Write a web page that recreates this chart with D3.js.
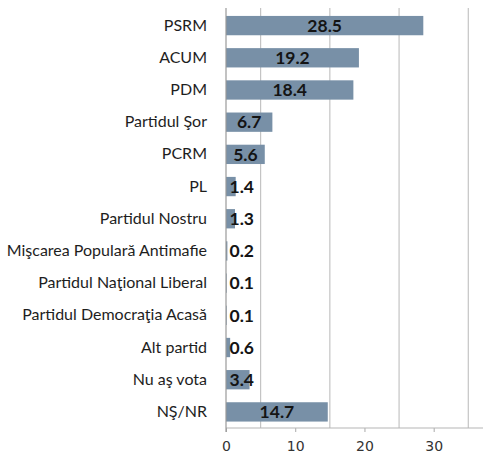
<!DOCTYPE html>
<html><head><meta charset="utf-8">
<script src="https://cdn.jsdelivr.net/npm/d3@7"></script>
<style>body{margin:0;background:#fff}</style>
</head><body>
<svg id="c" width="483" height="453"></svg>
<script>
const categories = ["PSRM","ACUM","PDM","Partidul Şor","PCRM","PL","Partidul Nostru","Mişcarea Populară Antimafie","Partidul Naţional Liberal","Partidul Democraţia Acasă","Alt partid","Nu aş vota","NŞ/NR"];
const values = [28.5,19.2,18.4,6.7,5.6,1.4,1.3,0.2,0.1,0.1,0.6,3.4,14.7];
const tickValues = [0,10,20,30];
const gridValues = [5,15,25,35];

const svg = d3.select("#c");
const x0 = 226, y0 = 9.5, y1 = 428;
const x = d3.scaleLinear().domain([0,35]).range([x0, 468.3]);
const y = d3.scaleBand().domain(categories).range([y0, y1]).paddingInner(0.4).paddingOuter(0.2);

// gridlines
svg.append("g").selectAll("line").data(gridValues).join("line")
  .attr("x1", d=>x(d)).attr("x2", d=>x(d)).attr("y1", 8).attr("y2", y1)
  .attr("stroke", "#c4c4c4").attr("stroke-width", 1.2);

// bottom axis
const xa = svg.append("g").attr("transform", `translate(0,${y1})`)
  .call(d3.axisBottom(x).tickValues(tickValues).tickSize(4).tickPadding(9).tickFormat(d3.format("d")));
xa.select(".domain").remove();
xa.selectAll(".tick line").attr("stroke", "#aaa");
xa.selectAll(".tick text").attr("font-family", "DejaVu Sans, Verdana, sans-serif").attr("font-size", 14).attr("fill", "#333");
svg.append("line").attr("x1", x0).attr("x2", 483).attr("y1", y1).attr("y2", y1).attr("stroke", "#b5b5b5").attr("stroke-width", 1.2);

// bars
svg.append("g").selectAll("rect").data(values).join("rect")
  .attr("x", x0).attr("y", (d,i)=>y(categories[i]))
  .attr("width", d=>x(d)-x0).attr("height", y.bandwidth())
  .attr("fill", "#7890a7");

// zero axis line
svg.append("line").attr("x1", x0).attr("x2", x0).attr("y1", 8).attr("y2", y1+4).attr("stroke", "#999").attr("stroke-width", 1.2);

// category labels
const ya = svg.append("g").attr("transform", `translate(${x0},0)`)
  .call(d3.axisLeft(y).tickSize(0).tickPadding(19));
ya.select(".domain").remove();
ya.selectAll(".tick text").attr("font-family", "Lato, 'Open Sans', sans-serif").attr("font-size", 16).attr("fill", "#1e1e1e");

// value labels
const vl = svg.append("g").selectAll("text").data(values).join("text")
  .attr("y", (d,i)=>y(categories[i]) + y.bandwidth()/2)
  .attr("dy", "0.36em")
  .attr("font-family", "Lato, 'Liberation Sans', sans-serif").attr("font-weight", "bold").attr("font-size", 17.5)
  .attr("fill", "#141414")
  .text(d=>d3.format(".1f")(d));
vl.each(function(d){
  const w = this.getComputedTextLength();
  const cx = (x0 + x(d))/2;
  const left = Math.max(cx - w/2, x0 + 3.5);
  d3.select(this).attr("x", left);
});
</script>
</body></html>
